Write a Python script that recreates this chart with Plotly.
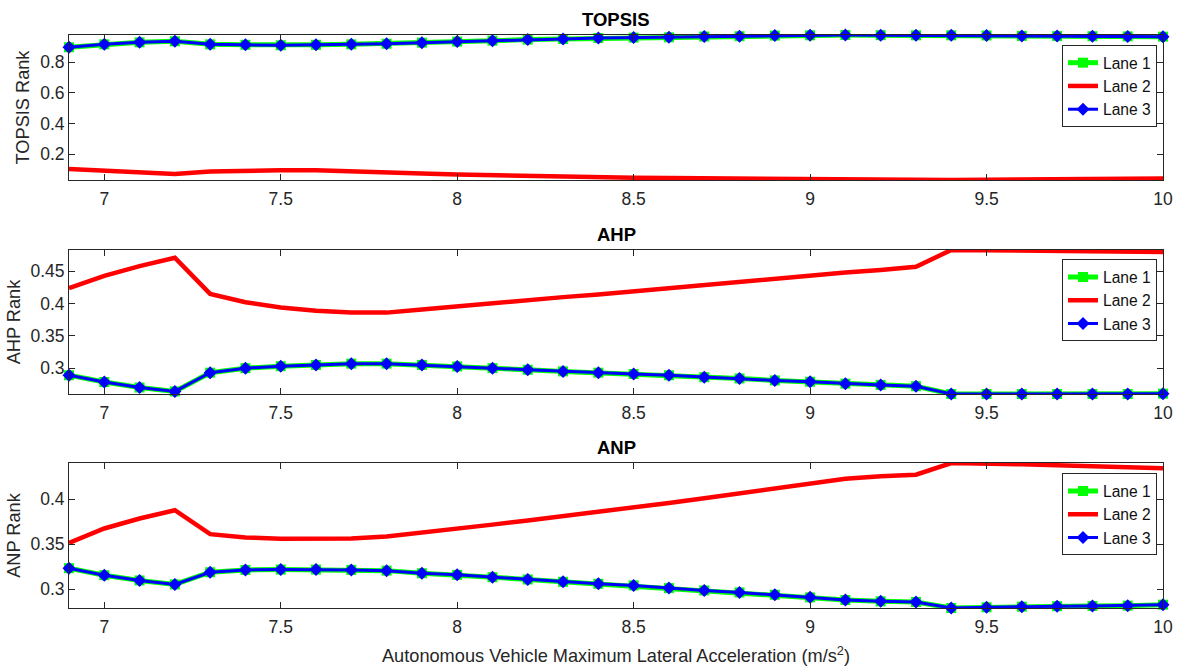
import plotly.graph_objects as go

x_vals = [6.9, 7.0, 7.1, 7.2, 7.3, 7.4, 7.5, 7.6, 7.7, 7.8, 7.9, 8.0, 8.1, 8.2, 8.3, 8.4,
          8.5, 8.6, 8.7, 8.8, 8.9, 9.0, 9.1, 9.2, 9.3, 9.4, 9.5, 9.6, 9.7, 9.8, 9.9, 10.0]

topsis_lane1 = [0.898, 0.917, 0.930, 0.937, 0.917, 0.914, 0.911, 0.914, 0.917, 0.921, 0.928, 0.935,
                0.941, 0.948, 0.952, 0.958, 0.961, 0.963, 0.968, 0.970, 0.974, 0.976, 0.978, 0.977,
                0.976, 0.976, 0.975, 0.972, 0.971, 0.970, 0.969, 0.967]
topsis_lane2 = [0.102, 0.089, 0.079, 0.070, 0.086, 0.093, 0.094, 0.094, 0.089, 0.083, 0.074, 0.066,
                0.061, 0.057, 0.052, 0.048, 0.046, 0.044, 0.042, 0.039, 0.037, 0.034, 0.031, 0.031,
                0.031, 0.031, 0.033, 0.034, 0.035, 0.037, 0.038, 0.040]
topsis_lane3 = list(topsis_lane1)

ahp_lane1 = [0.289, 0.2785, 0.270, 0.264, 0.293, 0.300, 0.303, 0.305, 0.307, 0.307, 0.305, 0.3026,
             0.300, 0.2975, 0.295, 0.293, 0.291, 0.289, 0.286, 0.284, 0.281, 0.279, 0.276, 0.274,
             0.272, 0.260, 0.260, 0.260, 0.260, 0.260, 0.260, 0.2605]
ahp_lane2 = [0.424, 0.443, 0.458, 0.471, 0.415, 0.402, 0.394, 0.389, 0.386, 0.386, 0.391, 0.396,
             0.400, 0.405, 0.410, 0.414, 0.419, 0.424, 0.428, 0.433, 0.438, 0.443, 0.448, 0.452,
             0.457, 0.483, 0.4825, 0.482, 0.4815, 0.481, 0.4805, 0.480]
ahp_lane3 = list(ahp_lane1)

anp_lane1 = [0.3232, 0.3154, 0.3096, 0.3052, 0.3187, 0.3213, 0.3217, 0.3217, 0.3213, 0.3205, 0.3176,
             0.3158, 0.3132, 0.3107, 0.3081, 0.3059, 0.3041, 0.3011, 0.2985, 0.2963, 0.2937, 0.2908,
             0.2879, 0.2864, 0.2857, 0.279, 0.2798, 0.2805, 0.281, 0.2813, 0.2816, 0.2827]
anp_lane2 = [0.3514, 0.3673, 0.3784, 0.3876, 0.361, 0.3574, 0.3559, 0.356, 0.3563, 0.3585, 0.3625,
             0.367, 0.3716, 0.3762, 0.3808, 0.3855, 0.3905, 0.3957, 0.401, 0.4064, 0.4118, 0.417,
             0.4225, 0.4254, 0.427, 0.44, 0.4397, 0.4386, 0.4375, 0.4364, 0.4353, 0.4342]
anp_lane3 = list(anp_lane1)

titles = ["TOPSIS", "AHP", "ANP"]
ylabels = ["TOPSIS Rank", "AHP Rank", "ANP Rank"]
yticks = [[0.2, 0.4, 0.6, 0.8], [0.3, 0.35, 0.4, 0.45], [0.3, 0.35, 0.4]]
yticktext = [["0.2", "0.4", "0.6", "0.8"], ["0.3", "0.35", "0.4", "0.45"], ["0.3", "0.35", "0.4"]]
yranges = [[0.031, 0.978], [0.260, 0.483], [0.279, 0.440]]
xticks = [7, 7.5, 8, 8.5, 9, 9.5, 10]
xticktext = ["7", "7.5", "8", "8.5", "9", "9.5", "10"]
lane_names = ["Lane 1", "Lane 2", "Lane 3"]

data = [
    (topsis_lane1, topsis_lane2, topsis_lane3),
    (ahp_lane1, ahp_lane2, ahp_lane3),
    (anp_lane1, anp_lane2, anp_lane3),
]

FONT = "Liberation Sans, Arial, Helvetica, sans-serif"
AX = "#262626"
TICK_SIZE = 17.5
LABEL_SIZE = 18.2
TITLE_SIZE = 18.5
LEGEND_SIZE = 15.6

domains = [[0.747, 1.0], [0.3735, 0.6248], [0.0, 0.253]]
legend_y = [0.9825, 0.6085, 0.235]

fig = go.Figure()
for i, (l1, l2, l3) in enumerate(data):
    n = "" if i == 0 else str(i + 1)
    xa = "x" + n
    ya = "y" + n
    lg = "legend" + n
    fig.add_trace(go.Scatter(
        x=x_vals, y=l1, name=lane_names[0], mode="lines+markers", xaxis=xa, yaxis=ya, legend=lg,
        line=dict(color="#00FF00", width=5),
        marker=dict(symbol="square", size=10, color="#00FF00"),
        cliponaxis=False))
    fig.add_trace(go.Scatter(
        x=x_vals, y=l2, name=lane_names[1], mode="lines", xaxis=xa, yaxis=ya, legend=lg,
        line=dict(color="#FF0000", width=4.5), cliponaxis=False))
    fig.add_trace(go.Scatter(
        x=x_vals, y=l3, name=lane_names[2], mode="lines+markers", xaxis=xa, yaxis=ya, legend=lg,
        line=dict(color="#0000FF", width=3),
        marker=dict(symbol="diamond", size=10, color="#0000FF"),
        cliponaxis=False))

layout = dict(
    width=1179, height=669,
    margin=dict(l=69, r=16, t=35, b=61, autoexpand=False),
    paper_bgcolor="white", plot_bgcolor="white",
    font=dict(family=FONT, size=TICK_SIZE, color=AX),
)
for i in range(3):
    n = "" if i == 0 else str(i + 1)
    layout["xaxis" + n] = dict(
        domain=[0, 1], anchor="y" + n, range=[6.9, 10],
        tickmode="array", tickvals=xticks, ticktext=xticktext,
        ticks="inside", ticklen=6, tickcolor=AX, tickwidth=1,
        showline=True, linecolor=AX, linewidth=1, mirror="ticks",
        showgrid=False, zeroline=False, ticklabelstandoff=3, automargin=False,
        tickfont=dict(size=TICK_SIZE, color=AX, family=FONT),
    )
    layout["yaxis" + n] = dict(
        domain=domains[i], anchor="x" + n, range=yranges[i],
        tickmode="array", tickvals=yticks[i], ticktext=yticktext[i],
        ticks="inside", ticklen=6, tickcolor=AX, tickwidth=1,
        showline=True, linecolor=AX, linewidth=1, mirror="ticks",
        showgrid=False, zeroline=False,
        tickfont=dict(size=TICK_SIZE, color=AX, family=FONT),
        title=dict(text=ylabels[i], font=dict(size=LABEL_SIZE, color=AX, family=FONT), standoff=5),
    )
    layout["legend" + n] = dict(
        x=0.9945, xanchor="right", y=legend_y[i], yanchor="top",
        bgcolor="white", bordercolor="#262626", borderwidth=1,
        font=dict(size=LEGEND_SIZE, color="#111111", family=FONT),
        tracegroupgap=0, itemwidth=30,
    )
layout["xaxis3"]["title"] = dict(
    text="Autonomous Vehicle Maximum Lateral Acceleration (m/s<sup>2</sup>)",
    font=dict(size=LABEL_SIZE, color=AX, family=FONT), standoff=13)

annotations = []
for i in range(3):
    annotations.append(dict(
        text="<b>" + titles[i] + "</b>", x=0.5, xref="paper", y=domains[i][1], yref="paper",
        yanchor="bottom", xanchor="center", yshift=3, showarrow=False,
        font=dict(size=TITLE_SIZE, color="black", family=FONT)))
layout["annotations"] = annotations

fig.update_layout(**layout)
fig.write_html("out.html")
